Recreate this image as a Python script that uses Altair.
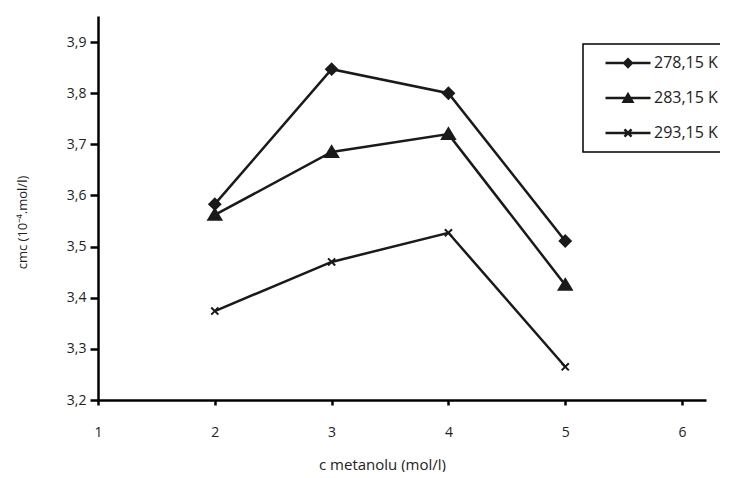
import altair as alt
import pandas as pd

x_vals = [2, 3, 4, 5]
series_names = ["278,15 K", "283,15 K", "293,15 K"]
s278 = [3.583, 3.847, 3.800, 3.511]
s283 = [3.562, 3.685, 3.720, 3.425]
s293 = [3.374, 3.470, 3.527, 3.265]
y_ticks = [3.2, 3.3, 3.4, 3.5, 3.6, 3.7, 3.8, 3.9]
x_ticks = [1, 2, 3, 4, 5, 6]

rows = []
for name, vals in zip(series_names, [s278, s283, s293]):
    for xv, yv in zip(x_vals, vals):
        rows.append({"c": xv, "cmc": yv, "series": name})
df = pd.DataFrame(rows)

FONT = "Open Sans"
INK = "#1a1a1a"

# plot markers (unit paths scaled by the mark size)
marker_paths = [
    "M0,-0.85L0.85,0L0,0.85L-0.85,0Z",
    "M0,-0.9L1,0.75L-1,0.75Z",
    "M-0.55,-0.55L0.55,0.55M0.55,-0.55L-0.55,0.55",
]
# legend symbols: a filled bar (the line) plus a filled marker
LINE = "M-0.333,-0.055H1.667V0.055H-0.333Z"
legend_paths = [
    LINE + "M0.667,-0.25L0.917,0L0.667,0.25L0.417,0Z",
    LINE + "M0.667,-0.28L0.957,0.22L0.377,0.22Z",
    LINE + "M0.550,-0.195L0.862,0.117L0.784,0.195L0.472,-0.117Z"
         + "M0.550,0.195L0.472,0.117L0.784,-0.195L0.862,-0.117Z",
]

x_enc = alt.X(
    "c:Q",
    scale=alt.Scale(domain=[1, 6.205], nice=False, zero=False),
    axis=alt.Axis(
        values=x_ticks, title="c metanolu (mol/l)", grid=False,
        tickSize=5, tickWidth=2.5, domainWidth=2.5, domainColor="black", tickColor="black",
        labelPadding=20, labelFontSize=14, labelFont=FONT, labelColor="#222",
        titleFont=FONT, titleFontSize=15, titleFontWeight="normal", titleColor="#222",
        titleX=284, titleY=64, titleAlign="center", titleBaseline="middle",
        labelFlush=False,
    ),
)
y_enc = alt.Y(
    "cmc:Q",
    scale=alt.Scale(domain=[3.2, 3.951], nice=False, zero=False),
    axis=alt.Axis(
        values=y_ticks, title="cmc (10⁻⁴.mol/l)", grid=False,
        tickSize=8, tickWidth=2.5, domainWidth=2.5, domainColor="black", tickColor="black",
        labelPadding=4, labelFontSize=14, labelFont=FONT, labelColor="#222",
        labelExpr="replace(format(datum.value, '.1f'), '.', ',')",
        titleFont=FONT, titleFontSize=13, titleFontWeight="normal", titleColor="#222",
        titleX=-76, titleY=206, titleAlign="center", titleBaseline="middle", titleAngle=-90,
        labelFlush=False,
    ),
)

base = alt.Chart(df)

lines = base.mark_line(color=INK, strokeWidth=2.5).encode(
    x=x_enc, y=y_enc, detail="series:N"
)

points = base.mark_point(
    filled=True, fill=INK, stroke=INK, size=169, strokeWidth=2, opacity=1
).encode(
    x=x_enc, y=y_enc,
    shape=alt.Shape("series:N", scale=alt.Scale(domain=series_names, range=marker_paths), legend=None),
)

leg = alt.Legend(
    title=None, orient="none", legendX=485, legendY=28,
    padding=7, clipHeight=24, rowPadding=11,
    symbolSize=2025, symbolFillColor=INK, symbolStrokeColor=INK,
    symbolStrokeWidth=0.5, symbolOpacity=1,
    labelOffset=18, labelFont=FONT, labelFontSize=16, labelColor="#222",
    labelExpr="datum.label + '\u2003\u2003'",
    strokeColor="black", fillColor="white",
)

legend_layer = base.mark_point(
    filled=True, fill=INK, stroke=INK, size=0, strokeWidth=0.5
).encode(
    x=x_enc, y=y_enc,
    shape=alt.Shape("series:N", scale=alt.Scale(domain=series_names, range=legend_paths), legend=leg),
)

chart = (
    alt.layer(lines, points, legend_layer)
    .resolve_scale(shape="independent")
    .properties(
        width=608, height=384,
        autosize=alt.AutoSizeParams(type="none"),
        padding={"left": 90, "top": 8, "right": 14, "bottom": 72},
    )
    .configure_view(stroke=None)
    .configure_legend(strokeWidth=1.5)
)

chart.save("out.html", embed_options={"renderer": "svg", "actions": False})
